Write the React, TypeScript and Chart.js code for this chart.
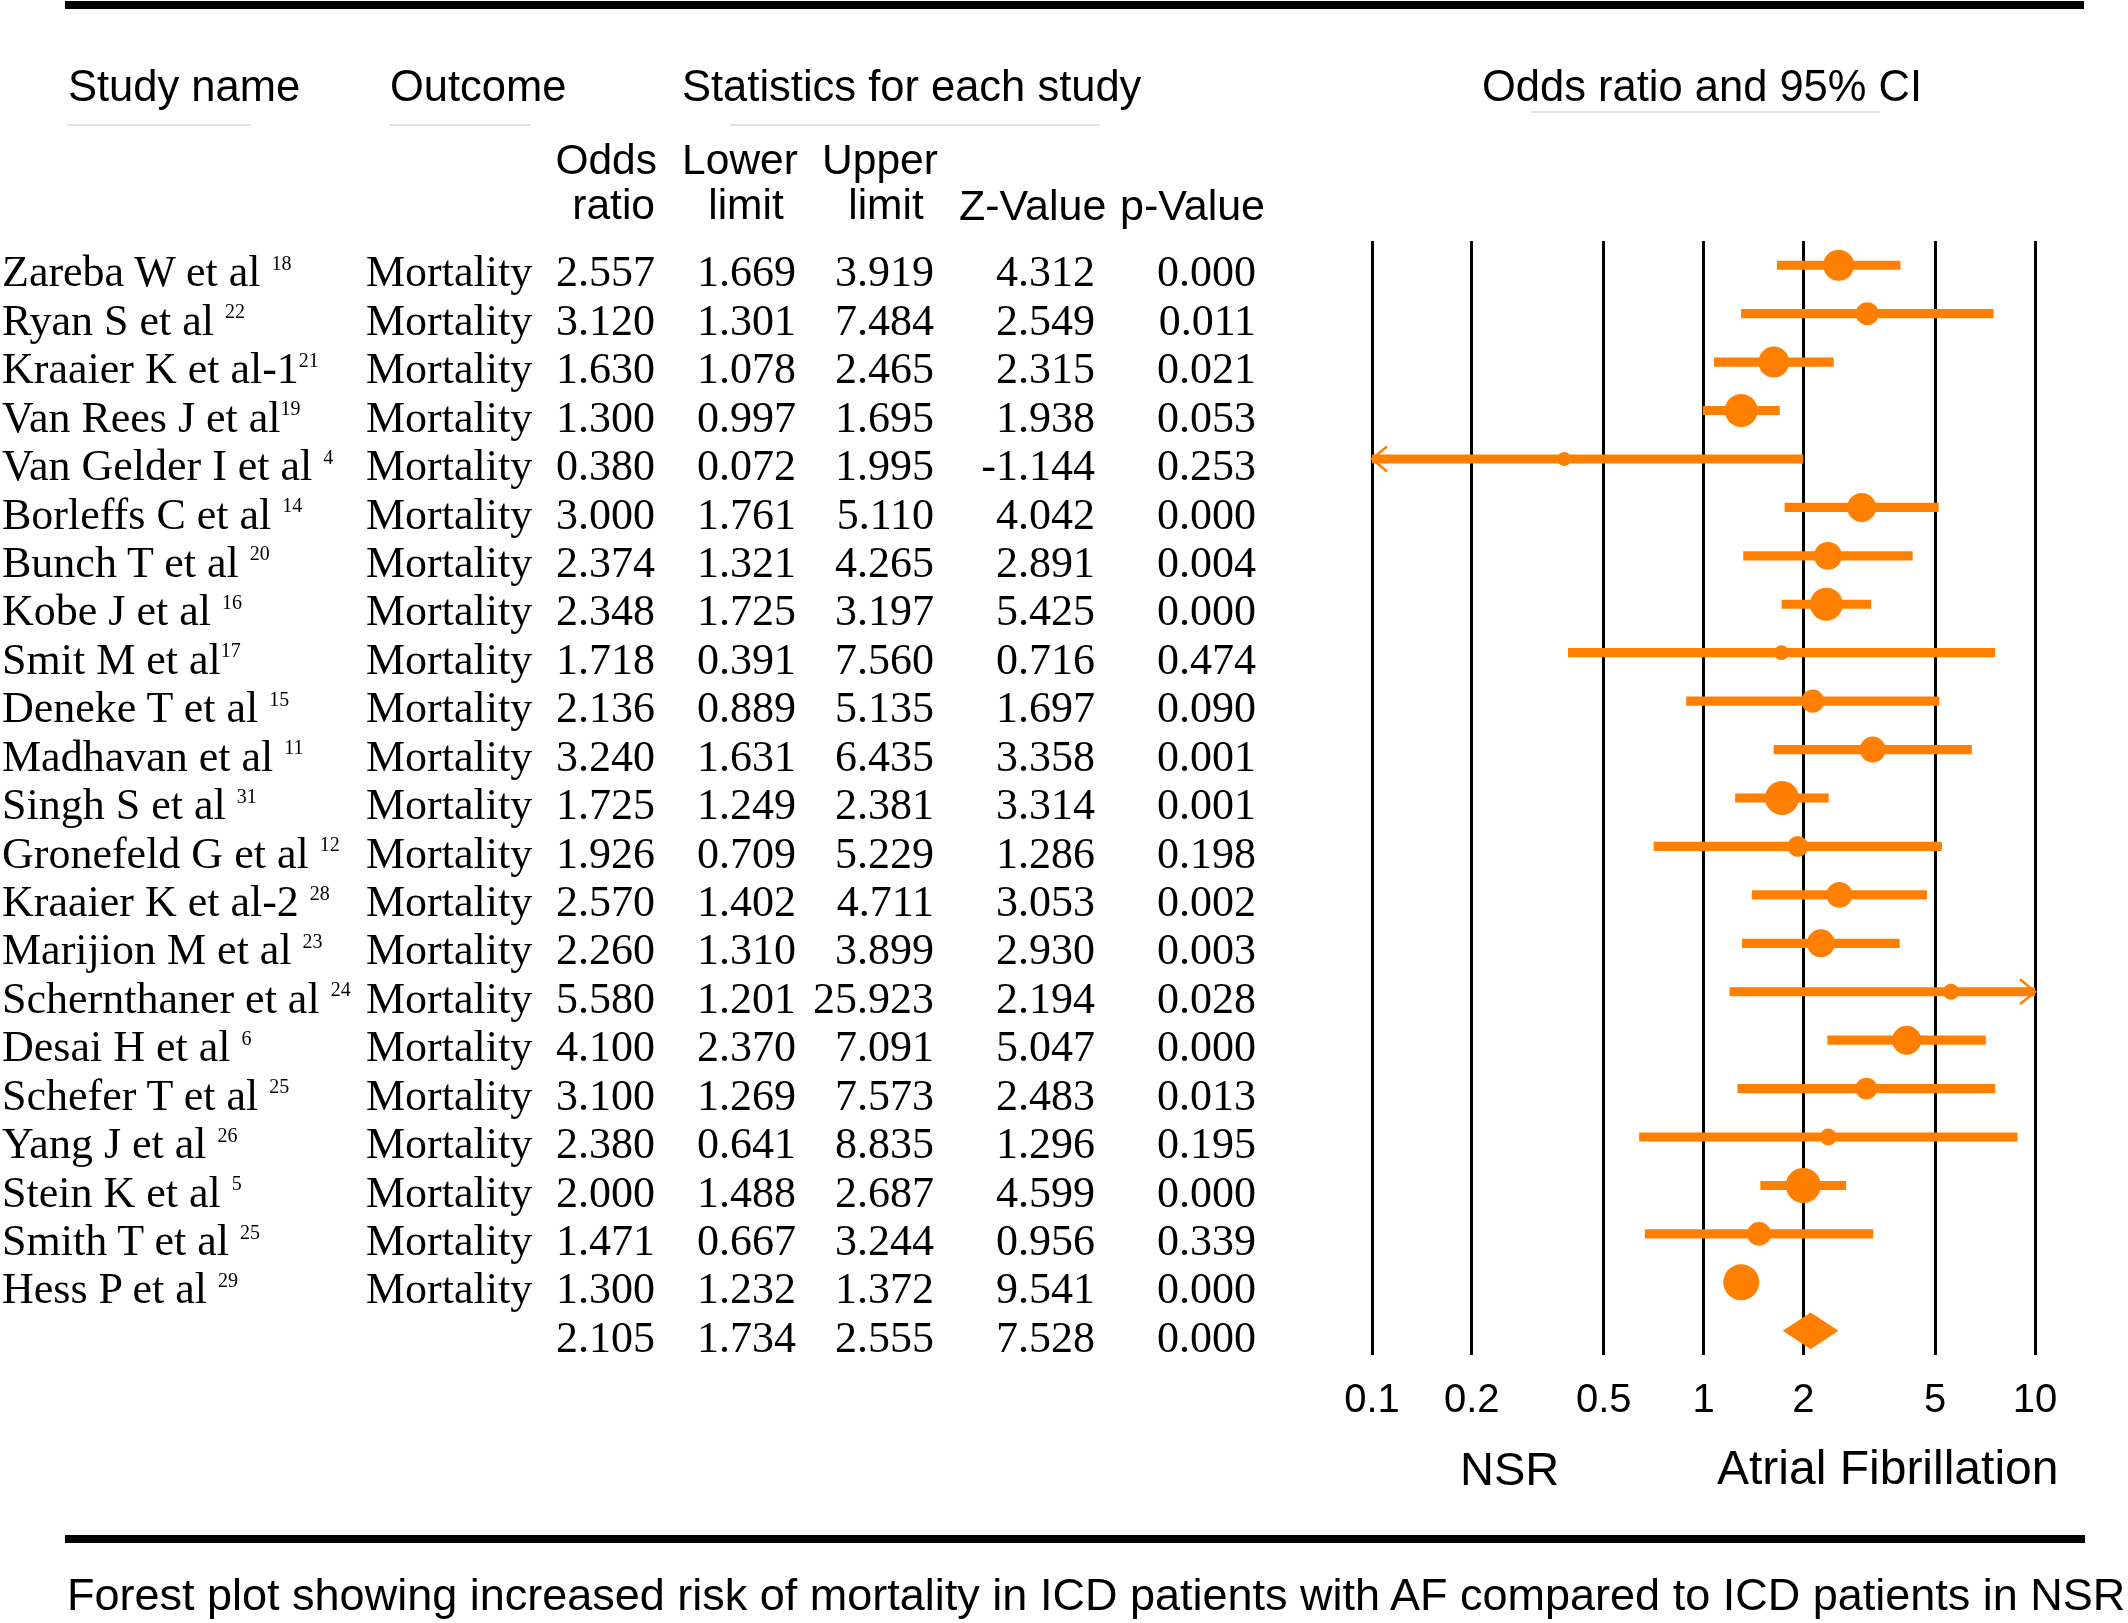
import React, { useEffect, useRef, useState } from 'react';
import { Chart, registerables } from 'chart.js';

Chart.register(...registerables);

// ---------- data ----------
const studyLabels = [
  'Zareba W et al ', 'Ryan S et al ', 'Kraaier K et al-1', 'Van Rees J et al', 'Van Gelder I et al ',
  'Borleffs C et al ', 'Bunch T et al ', 'Kobe J et al ', 'Smit M et al', 'Deneke T et al ',
  'Madhavan et al ', 'Singh S et al ', 'Gronefeld G et al ', 'Kraaier K et al-2 ', 'Marijion M et al ',
  'Schernthaner et al ', 'Desai H et al ', 'Schefer T et al ', 'Yang J et al ', 'Stein K et al ',
  'Smith T et al ', 'Hess P et al ',
];
const refNumbers = ['18', '22', '21', '19', '4', '14', '20', '16', '17', '15', '11', '31', '12', '28', '23', '24', '6', '25', '26', '5', '25', '29'];
const outcomes = Array.from({ length: 22 }, () => 'Mortality');
const oddsRatio = [2.557, 3.120, 1.630, 1.300, 0.380, 3.000, 2.374, 2.348, 1.718, 2.136, 3.240, 1.725, 1.926, 2.570, 2.260, 5.580, 4.100, 3.100, 2.380, 2.000, 1.471, 1.300];
const lowerLimit = [1.669, 1.301, 1.078, 0.997, 0.072, 1.761, 1.321, 1.725, 0.391, 0.889, 1.631, 1.249, 0.709, 1.402, 1.310, 1.201, 2.370, 1.269, 0.641, 1.488, 0.667, 1.232];
const upperLimit = [3.919, 7.484, 2.465, 1.695, 1.995, 5.110, 4.265, 3.197, 7.560, 5.135, 6.435, 2.381, 5.229, 4.711, 3.899, 25.923, 7.091, 7.573, 8.835, 2.687, 3.244, 1.372];
const zValue = [4.312, 2.549, 2.315, 1.938, -1.144, 4.042, 2.891, 5.425, 0.716, 1.697, 3.358, 3.314, 1.286, 3.053, 2.930, 2.194, 5.047, 2.483, 1.296, 4.599, 0.956, 9.541];
const pValue = [0.000, 0.011, 0.021, 0.053, 0.253, 0.000, 0.004, 0.000, 0.474, 0.090, 0.001, 0.001, 0.198, 0.002, 0.003, 0.028, 0.000, 0.013, 0.195, 0.000, 0.339, 0.000];
// relative study weights (largest = 1)
const relativeWeight = [0.74, 0.41, 0.74, 0.84, 0.15, 0.65, 0.60, 0.84, 0.17, 0.41, 0.52, 0.89, 0.34, 0.52, 0.60, 0.20, 0.65, 0.37, 0.22, 0.95, 0.44, 1.00];
const summaryStats = { or: 2.105, lower: 1.734, upper: 2.555, z: 7.528, p: 0.000 };
const axisTicks = [0.1, 0.2, 0.5, 1, 2, 5, 10];
const axisMin = 0.1;
const axisMax = 10;

// ---------- styles ----------
const W = 2128;
const H = 1623;
const ORANGE = '#FF8000';
const SERIF = "'Liberation Serif', 'Times New Roman', serif";
const SANS = "'Liberation Sans', Arial, Helvetica, sans-serif";
const nRows = studyLabels.length + 1;

const fmt = (v: number) => v.toFixed(3);

const forestExtras = {
  id: 'forestExtras',
  afterDatasetsDraw(chart: any) {
    const { ctx, scales } = chart;
    const xs = scales.x;
    const ys = scales.y;
    ctx.save();
    ctx.strokeStyle = ORANGE;
    ctx.lineWidth = 2.5;
    ctx.lineCap = 'butt';
    for (let i = 0; i < lowerLimit.length; i++) {
      const y = ys.getPixelForValue(i);
      if (lowerLimit[i] < axisMin) {
        const x = xs.getPixelForValue(axisMin);
        ctx.beginPath();
        ctx.moveTo(x + 15, y - 12.5);
        ctx.lineTo(x, y);
        ctx.lineTo(x + 15, y + 12.5);
        ctx.stroke();
      }
      if (upperLimit[i] > axisMax) {
        const x = xs.getPixelForValue(axisMax);
        ctx.beginPath();
        ctx.moveTo(x - 15, y - 12.5);
        ctx.lineTo(x, y);
        ctx.lineTo(x - 15, y + 12.5);
        ctx.stroke();
      }
    }
    const yc = ys.getPixelForValue(nRows - 1);
    const half = Math.abs(ys.getPixelForValue(0.38) - ys.getPixelForValue(0));
    const xl = xs.getPixelForValue(summaryStats.lower);
    const xm = xs.getPixelForValue(summaryStats.or);
    const xr = xs.getPixelForValue(summaryStats.upper);
    ctx.fillStyle = ORANGE;
    ctx.beginPath();
    ctx.moveTo(xl, yc);
    ctx.lineTo(xm, yc - half);
    ctx.lineTo(xr, yc);
    ctx.lineTo(xm, yc + half);
    ctx.closePath();
    ctx.fill();
    ctx.restore();
  },
};

type TP = {
  x: number;
  y: number; // baseline
  size: number;
  font?: 'serif' | 'sans';
  align?: 'left' | 'right' | 'center';
  children: React.ReactNode;
};
const Txt = ({ x, y, size, font = 'sans', align = 'left', children }: TP) => {
  const k = font === 'serif' ? 0.8375 : 0.8465;
  const tx = align === 'left' ? undefined : align === 'right' ? 'translateX(-100%)' : 'translateX(-50%)';
  return (
    <div
      style={{
        position: 'absolute',
        left: x,
        top: y - k * size,
        fontFamily: font === 'serif' ? SERIF : SANS,
        fontSize: size,
        lineHeight: `${size}px`,
        whiteSpace: 'nowrap',
        transform: tx,
        color: '#000',
      }}
    >
      {children}
    </div>
  );
};

const Rule = ({ x1, x2, y, h, color }: { x1: number; x2: number; y: number; h: number; color: string }) => (
  <div style={{ position: 'absolute', left: x1, top: y, width: x2 - x1, height: h, background: color }} />
);

export default function App() {
  const canvasRef = useRef<HTMLCanvasElement>(null);
  const [rowY, setRowY] = useState<number[]>([]);

  useEffect(() => {
    document.body.style.margin = '0';
    const canvas = canvasRef.current!;
    const radii = relativeWeight.map((w) => 18 * Math.sqrt(w));
    const chart = new Chart(canvas, {
      type: 'bar',
      data: {
        datasets: [
          {
            type: 'scatter',
            data: oddsRatio.map((v, i) => ({ x: v, y: i })),
            pointRadius: radii,
            pointHoverRadius: radii,
            pointBackgroundColor: ORANGE,
            pointBorderWidth: 0,
            borderWidth: 0,
            order: 0,
          } as any,
          {
            type: 'bar',
            indexAxis: 'y',
            data: lowerLimit.map((lo, i) => ({ y: i, x: [lo, upperLimit[i]] })),
            backgroundColor: ORANGE,
            borderWidth: 0,
            barThickness: 8.5,
            order: 1,
          } as any,
        ],
      },
      options: {
        responsive: false,
        animation: false,
        devicePixelRatio: 1,
        events: [],
        layout: { padding: { left: 1372, right: W - 2035, top: 241, bottom: 168 } },
        plugins: { legend: { display: false }, tooltip: { enabled: false }, title: { display: false } },
        scales: {
          x: {
            type: 'logarithmic',
            position: 'bottom',
            min: axisMin,
            max: axisMax,
            offset: false,
            afterBuildTicks: (scale: any) => {
              scale.ticks = axisTicks.map((v) => ({ value: v }));
            },
            afterFit: (scale: any) => {
              scale.height = 100;
            },
            grid: { color: '#000', lineWidth: 3, drawTicks: false, offset: false },
            border: { display: false },
            ticks: {
              autoSkip: false,
              maxRotation: 0,
              minRotation: 0,
              padding: 22,
              color: '#000',
              font: { family: SANS, size: 40 },
              callback: (v: any) => String(v),
            },
          },
          y: {
            type: 'linear',
            min: -0.5,
            max: nRows - 0.5,
            reverse: true,
            offset: false,
            grace: 0,
            display: false,
            grid: { offset: false },
          },
        },
      } as any,
      plugins: [forestExtras],
    });
    const ys = chart.scales.y;
    setRowY(Array.from({ length: nRows }, (_, i) => ys.getPixelForValue(i)));
    return () => chart.destroy();
  }, []);

  const baseOff = 22;
  const RS = 44;

  return (
    <div style={{ position: 'absolute', left: 0, top: 0, width: W, height: H, background: '#fff', overflow: 'hidden' }}>
      <canvas ref={canvasRef} width={W} height={H} style={{ position: 'absolute', left: 0, top: 0, width: W, height: H }} />

      {/* rules */}
      <Rule x1={65} x2={2084} y={1} h={8} color="#000" />
      <Rule x1={65} x2={2085} y={1535} h={8} color="#000" />
      <Rule x1={67} x2={251} y={124} h={2} color="#e2e2e2" />
      <Rule x1={390} x2={530} y={124} h={2} color="#e2e2e2" />
      <Rule x1={730} x2={1100} y={124} h={2} color="#e2e2e2" />
      <Rule x1={1531} x2={1880} y={111} h={2} color="#e2e2e2" />

      {/* headers */}
      <Txt x={68} y={102} size={43.5}>Study name</Txt>
      <Txt x={390} y={102} size={43.5}>Outcome</Txt>
      <Txt x={682} y={102} size={43.5}>Statistics for each study</Txt>
      <Txt x={1482} y={102} size={43.5}>Odds ratio and 95% CI</Txt>

      <Txt x={657} y={175} size={42.5} align="right">Odds</Txt>
      <Txt x={655} y={220} size={42.5} align="right">ratio</Txt>
      <Txt x={740} y={175} size={42.5} align="center">Lower</Txt>
      <Txt x={746} y={220} size={42.5} align="center">limit</Txt>
      <Txt x={880} y={175} size={42.5} align="center">Upper</Txt>
      <Txt x={886} y={220} size={42.5} align="center">limit</Txt>
      <Txt x={959} y={220} size={43}>Z-Value</Txt>
      <Txt x={1120} y={220} size={43}>p-Value</Txt>

      {/* table rows */}
      {rowY.slice(0, studyLabels.length).map((yy, i) => (
        <React.Fragment key={i}>
          <Txt x={2} y={yy + baseOff} size={RS} font="serif">
            {studyLabels[i]}
            <span style={{ fontSize: 20, position: 'relative', top: -16.5 }}>{refNumbers[i]}</span>
          </Txt>
          <Txt x={366} y={yy + baseOff} size={RS} font="serif">{outcomes[i]}</Txt>
          <Txt x={655} y={yy + baseOff} size={RS} font="serif" align="right">{fmt(oddsRatio[i])}</Txt>
          <Txt x={796} y={yy + baseOff} size={RS} font="serif" align="right">{fmt(lowerLimit[i])}</Txt>
          <Txt x={934} y={yy + baseOff} size={RS} font="serif" align="right">{fmt(upperLimit[i])}</Txt>
          <Txt x={1095} y={yy + baseOff} size={RS} font="serif" align="right">{fmt(zValue[i])}</Txt>
          <Txt x={1256} y={yy + baseOff} size={RS} font="serif" align="right">{fmt(pValue[i])}</Txt>
        </React.Fragment>
      ))}
      {rowY.length === nRows && (
        <>
          <Txt x={655} y={rowY[nRows - 1] + baseOff} size={RS} font="serif" align="right">{fmt(summaryStats.or)}</Txt>
          <Txt x={796} y={rowY[nRows - 1] + baseOff} size={RS} font="serif" align="right">{fmt(summaryStats.lower)}</Txt>
          <Txt x={934} y={rowY[nRows - 1] + baseOff} size={RS} font="serif" align="right">{fmt(summaryStats.upper)}</Txt>
          <Txt x={1095} y={rowY[nRows - 1] + baseOff} size={RS} font="serif" align="right">{fmt(summaryStats.z)}</Txt>
          <Txt x={1256} y={rowY[nRows - 1] + baseOff} size={RS} font="serif" align="right">{fmt(summaryStats.p)}</Txt>
        </>
      )}

      {/* axis side labels */}
      <Txt x={1460} y={1485} size={47}>NSR</Txt>
      <Txt x={1717} y={1485} size={48}>Atrial Fibrillation</Txt>

      {/* caption */}
      <Txt x={67} y={1610} size={45}>Forest plot showing increased risk of mortality in ICD patients with AF compared to ICD patients in NSR</Txt>
    </div>
  );
}
